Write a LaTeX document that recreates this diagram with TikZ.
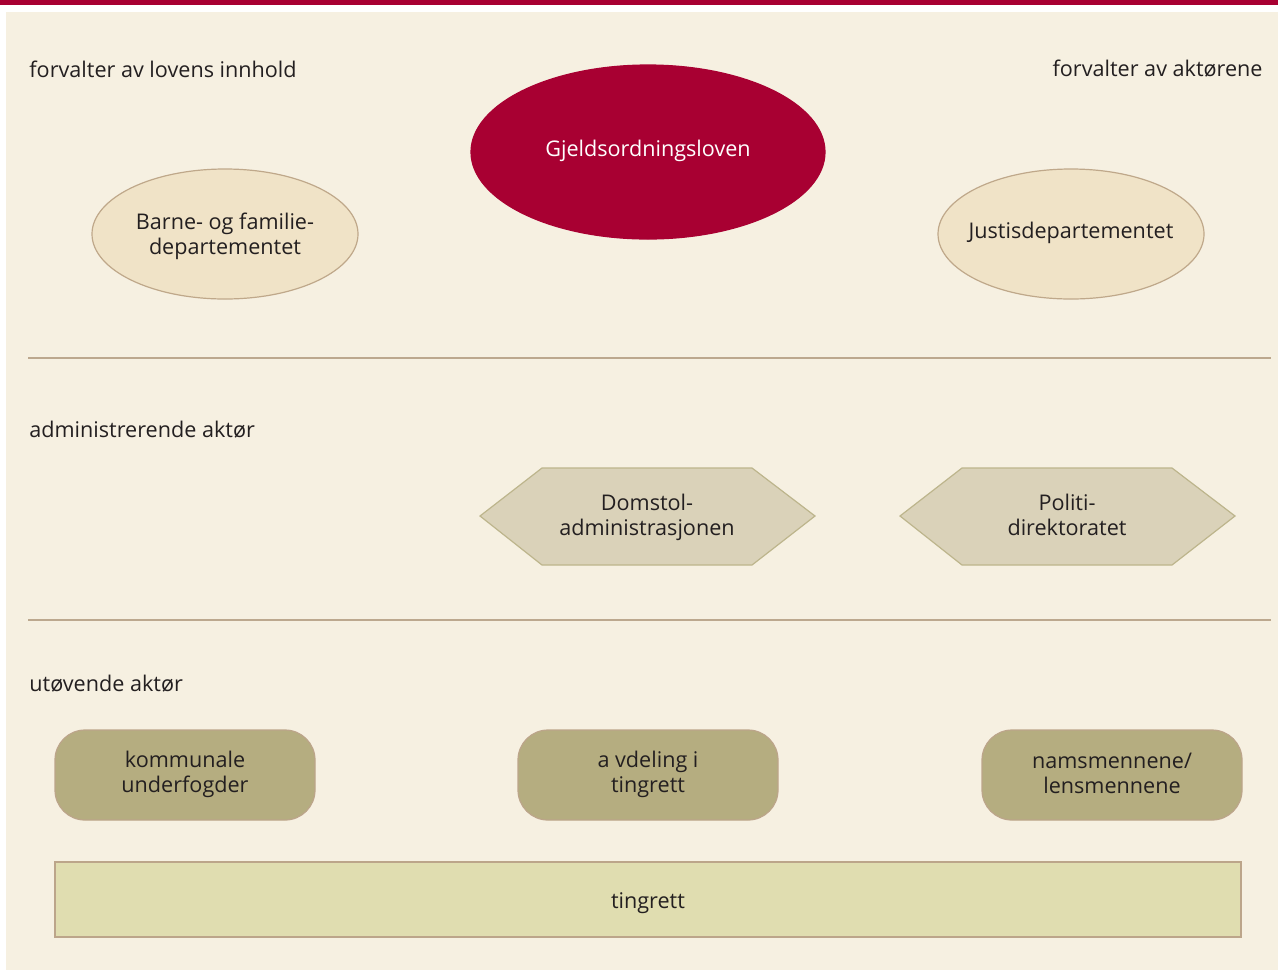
\documentclass[tikz,border=0pt]{standalone}
\usepackage{fontspec}
\setmainfont{Open Sans}
\usetikzlibrary{shapes.geometric}
\definecolor{crimson}{HTML}{A80032}
\definecolor{bgbeige}{HTML}{F6F0E1}
\definecolor{ruleline}{HTML}{BCA88E}
\definecolor{ellfill}{HTML}{F0E3C7}
\definecolor{ellline}{HTML}{BFA88A}
\definecolor{hexfill}{HTML}{DAD2B9}
\definecolor{hexline}{HTML}{BDB58C}
\definecolor{boxfill}{HTML}{B5AD80}
\definecolor{boxline}{HTML}{BCA58A}
\definecolor{barfill}{HTML}{E0DDB0}
\definecolor{textc}{HTML}{231F20}
\tikzset{
  txt/.style={font=\fontsize{10.8}{12.6}\selectfont, text=textc},
  lbl/.style={txt, inner sep=0pt},
  ell/.style={ellipse, draw=ellline, line width=0.6pt, fill=ellfill, minimum width=133pt, minimum height=65pt, align=center, txt, inner sep=0pt},
  hexa/.style={draw=hexline, line width=0.6pt, fill=hexfill},
  hextext/.style={align=center, txt, inner sep=0pt},
  actor/.style={draw=boxline, line width=0.6pt, fill=boxfill, rounded corners=15pt, minimum width=130pt, minimum height=45pt, align=center, txt, inner sep=0pt},
}
\begin{document}
\begin{tikzpicture}[x=0.5pt,y=-0.5pt]
\useasboundingbox (0,0) rectangle (1278,970);
\fill[crimson] (0,0) rectangle (1278,5);
\fill[bgbeige] (6,12) rectangle (1278,970);
% separator lines
\coordinate (l1a) at (28,358); \coordinate (l1b) at (1271,358);
\coordinate (l2a) at (28,620); \coordinate (l2b) at (1271,620);
\draw[ruleline, line width=1pt] (l1a) -- (l1b);
\draw[ruleline, line width=1pt] (l2a) -- (l2b);
% labels
\node[lbl, anchor=west] (lab1) at (29,69) {forvalter av lovens innhold};
\node[lbl, anchor=east] (lab2) at (1263,69) {forvalter av aktørene};
\node[lbl, anchor=west] (lab3) at (29,430) {administrerende aktør};
\node[lbl, anchor=west] (lab4) at (29,684) {utøvende aktør};
% ellipses
\node[ell, fill=crimson, draw=crimson, minimum width=177pt, minimum height=87pt] (law) at (648,152) {};
\node[lbl, text=white] (lawt) at (648,151) {Gjeldsordningsloven};
\node[ell] (bfd) at (225,234) {};
\node[hextext] (bfdt) at (225,236.5) {Barne- og familie-\\departementet};
\node[ell] (jd) at (1071,234) {};
\node[lbl] (jdt) at (1071,233) {Justisdepartementet};
% hexagons
\draw[hexa] (480,516) -- (542,468) -- (752,468) -- (815,516) -- (752,565) -- (542,565) -- cycle;
\node[hextext] (da) at (647,517) {Domstol-\\administrasjonen};
\draw[hexa] (900,516) -- (962,468) -- (1172,468) -- (1235,516) -- (1172,565) -- (962,565) -- cycle;
\node[hextext] (pod) at (1067,515) {Politi-\\direktoratet};
% actors
\node[actor] (ku) at (185,775) {};
\node[hextext] (kut) at (185,774) {kommunale\\underfogder};
\node[actor] (at) at (648,775) {};
\node[hextext] (att) at (648,774) {a vdeling i\\tingrett};
\node[actor] (nl) at (1112,775) {};
\node[hextext] (nlt) at (1112,773) {namsmennene/\\lensmennene};
% tingrett bar
\node[draw=boxline, line width=1pt, fill=barfill, minimum width=593pt, minimum height=37.5pt, inner sep=0pt] (tr) at (648,899.5) {};
\node[lbl] (trt) at (648,903) {tingrett};
\end{tikzpicture}
\end{document}
